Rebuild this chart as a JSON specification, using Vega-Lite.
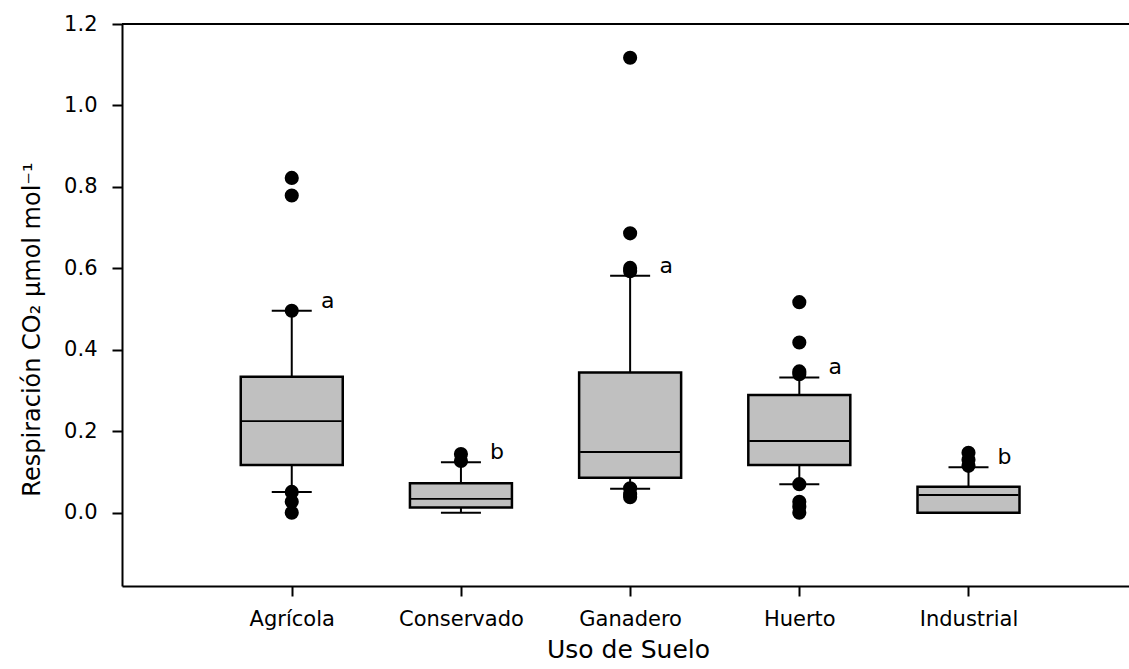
{
  "$schema": "https://vega.github.io/schema/vega-lite/v6.json",
  "width": 1007,
  "height": 562,
  "autosize": {"type": "none"},
  "padding": {"left": 122, "top": 24, "right": 0, "bottom": 83},
  "background": "white",
  "config": {
    "view": {"stroke": null},
    "font": "DejaVu Sans",
    "tick": {"opacity": 1},
    "axis": {
      "grid": false,
      "domainColor": "black",
      "domainWidth": 2,
      "tickColor": "black",
      "tickWidth": 2,
      "labelColor": "black",
      "titleColor": "black",
      "labelFont": "DejaVu Sans",
      "titleFont": "DejaVu Sans",
      "titleFontWeight": "normal"
    }
  },
  "datasets": {
    "cajas": [
      {"uso": "Agrícola", "inferior": 0.051, "q1": 0.117, "mediana": 0.225, "q3": 0.334, "superior": 0.496, "letra": "a"},
      {"uso": "Conservado", "inferior": 0.0, "q1": 0.013, "mediana": 0.034, "q3": 0.072, "superior": 0.124, "letra": "b"},
      {"uso": "Ganadero", "inferior": 0.059, "q1": 0.086, "mediana": 0.149, "q3": 0.344, "superior": 0.582, "letra": "a"},
      {"uso": "Huerto", "inferior": 0.07, "q1": 0.117, "mediana": 0.176, "q3": 0.289, "superior": 0.332, "letra": "a"},
      {"uso": "Industrial", "inferior": 0.0, "q1": 0.0, "mediana": 0.0435, "q3": 0.064, "superior": 0.1115, "letra": "b"}
    ],
    "atipicos": [
      {"uso": "Agrícola", "valor": 0.822},
      {"uso": "Agrícola", "valor": 0.779},
      {"uso": "Agrícola", "valor": 0.496},
      {"uso": "Agrícola", "valor": 0.051},
      {"uso": "Agrícola", "valor": 0.027},
      {"uso": "Agrícola", "valor": 0.0},
      {"uso": "Conservado", "valor": 0.144},
      {"uso": "Conservado", "valor": 0.127},
      {"uso": "Ganadero", "valor": 1.117},
      {"uso": "Ganadero", "valor": 0.686},
      {"uso": "Ganadero", "valor": 0.601},
      {"uso": "Ganadero", "valor": 0.593},
      {"uso": "Ganadero", "valor": 0.060},
      {"uso": "Ganadero", "valor": 0.045},
      {"uso": "Ganadero", "valor": 0.038},
      {"uso": "Huerto", "valor": 0.517},
      {"uso": "Huerto", "valor": 0.418},
      {"uso": "Huerto", "valor": 0.347},
      {"uso": "Huerto", "valor": 0.340},
      {"uso": "Huerto", "valor": 0.070},
      {"uso": "Huerto", "valor": 0.027},
      {"uso": "Huerto", "valor": 0.015},
      {"uso": "Huerto", "valor": 0.0},
      {"uso": "Industrial", "valor": 0.147},
      {"uso": "Industrial", "valor": 0.130},
      {"uso": "Industrial", "valor": 0.115}
    ]
  },
  "layer": [
    {
      "data": {"values": [{}]},
      "mark": {"type": "rule", "color": "black", "strokeWidth": 2},
      "encoding": {
        "y": {"datum": 1.2, "type": "quantitative", "title": "Respiración CO₂ µmol mol⁻¹",
          "scale": {"domain": [-0.18, 1.2], "nice": false, "zero": false}}
      }
    },
    {
      "data": {"name": "cajas"},
      "mark": {"type": "rule", "color": "black", "strokeWidth": 2},
      "encoding": {
        "x": {
          "field": "uso", "type": "nominal", "title": "Uso de Suelo",
          "sort": ["Agrícola", "Conservado", "Ganadero", "Huerto", "Industrial"],
          "scale": {"type": "point", "padding": 0.976, "align": 0.514},
          "axis": {
            "labelAngle": 0, "labelFontSize": 21, "tickSize": 10, "labelPadding": 29,
            "labelBaseline": "alphabetic",
            "titleFontSize": 25, "titleX": 506, "titleY": 71, "titleBaseline": "alphabetic", "titleAnchor": null
          }
        },
        "y": {
          "field": "inferior", "type": "quantitative", "title": "Respiración CO₂ µmol mol⁻¹",
          "scale": {"domain": [-0.18, 1.2], "nice": false, "zero": false},
          "axis": {
            "values": [0, 0.2, 0.4, 0.6, 0.8, 1.0, 1.2], "format": ".1f",
            "labelFontSize": 21, "tickSize": 10, "labelPadding": 15,
            "titleFontSize": 24, "titleAngle": -90, "titleX": -83, "titleY": 305,
            "titleBaseline": "alphabetic", "titleAlign": "center"
          }
        },
        "y2": {"field": "superior"}
      }
    },
    {
      "data": {"name": "cajas"},
      "mark": {"type": "tick", "color": "black", "opacity": 1, "orient": "horizontal", "size": 40, "thickness": 2},
      "encoding": {
        "x": {"field": "uso", "type": "nominal", "title": "Uso de Suelo", "sort": ["Agrícola", "Conservado", "Ganadero", "Huerto", "Industrial"]},
        "y": {"field": "inferior", "type": "quantitative", "title": "Respiración CO₂ µmol mol⁻¹"}
      }
    },
    {
      "data": {"name": "cajas"},
      "mark": {"type": "tick", "color": "black", "opacity": 1, "orient": "horizontal", "size": 40, "thickness": 2},
      "encoding": {
        "x": {"field": "uso", "type": "nominal", "title": "Uso de Suelo", "sort": ["Agrícola", "Conservado", "Ganadero", "Huerto", "Industrial"]},
        "y": {"field": "superior", "type": "quantitative", "title": "Respiración CO₂ µmol mol⁻¹"}
      }
    },
    {
      "data": {"name": "cajas"},
      "mark": {"type": "bar", "size": 102, "fill": "#c0c0c0", "stroke": "black", "strokeWidth": 2.5},
      "encoding": {
        "x": {"field": "uso", "type": "nominal", "title": "Uso de Suelo", "sort": ["Agrícola", "Conservado", "Ganadero", "Huerto", "Industrial"]},
        "y": {"field": "q1", "type": "quantitative", "title": "Respiración CO₂ µmol mol⁻¹"},
        "y2": {"field": "q3"}
      }
    },
    {
      "data": {"name": "cajas"},
      "mark": {"type": "tick", "color": "black", "opacity": 1, "orient": "horizontal", "size": 100, "thickness": 1.8},
      "encoding": {
        "x": {"field": "uso", "type": "nominal", "title": "Uso de Suelo", "sort": ["Agrícola", "Conservado", "Ganadero", "Huerto", "Industrial"]},
        "y": {"field": "mediana", "type": "quantitative", "title": "Respiración CO₂ µmol mol⁻¹"}
      }
    },
    {
      "data": {"name": "atipicos"},
      "mark": {"type": "circle", "color": "black", "opacity": 1, "size": 200},
      "encoding": {
        "x": {"field": "uso", "type": "nominal", "title": "Uso de Suelo", "sort": ["Agrícola", "Conservado", "Ganadero", "Huerto", "Industrial"]},
        "y": {"field": "valor", "type": "quantitative", "title": "Respiración CO₂ µmol mol⁻¹"}
      }
    },
    {
      "data": {"name": "cajas"},
      "mark": {"type": "text", "color": "black", "fontSize": 22, "dx": 36, "dy": -10, "align": "center", "baseline": "middle", "font": "DejaVu Sans"},
      "encoding": {
        "x": {"field": "uso", "type": "nominal", "title": "Uso de Suelo", "sort": ["Agrícola", "Conservado", "Ganadero", "Huerto", "Industrial"]},
        "y": {"field": "superior", "type": "quantitative", "title": "Respiración CO₂ µmol mol⁻¹"},
        "text": {"field": "letra"}
      }
    }
  ]
}
